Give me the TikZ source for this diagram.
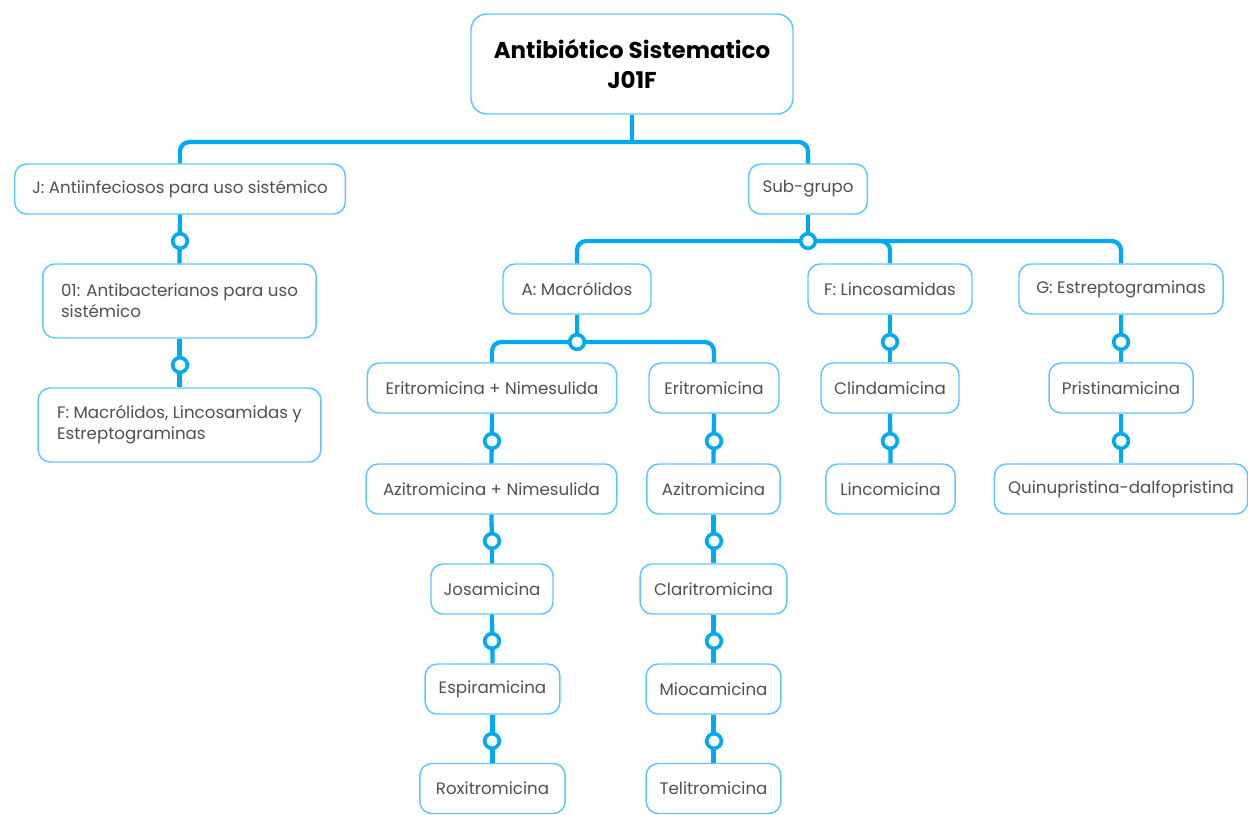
\documentclass[tikz,border=0pt]{standalone}
\usepackage{fontspec}
\setmainfont{Poppins}
\usetikzlibrary{calc}
\definecolor{linec}{HTML}{00A9F4}
\definecolor{boxc}{HTML}{5BC8FA}
\definecolor{txtc}{HTML}{505050}
\tikzset{
  x=0.75pt, y=-0.75pt,
  box/.style={draw=boxc, line width=1.1pt, rounded corners=9pt, fill=white,
    text=txtc, font=\fontsize{12.5}{16}\selectfont, inner sep=0pt,
    minimum height=37.5pt},
  rootbox/.style={draw=boxc, line width=1.1pt, rounded corners=12pt, fill=white,
    text=black, font=\fontsize{17.2}{22}\selectfont\bfseries, align=center, inner sep=0pt},
  conn/.style={draw=linec, line width=3.2pt, rounded corners=7pt},
  junc/.style={circle, draw=linec, line width=2.7pt, fill=white, minimum size=11pt, inner sep=0pt},
}
\begin{document}
\begin{tikzpicture}
\useasboundingbox (0,0) rectangle (1248,814);
% nodes
\node[rootbox, minimum width=241.5pt, minimum height=75pt] (root) at (632,64) {Antibiótico Sistematico\\J01F};
\node[box, minimum width=248pt] (J) at (180,189) {J: Antiinfeciosos para uso sistémico};
\node[box, minimum width=205pt, minimum height=55.5pt, align=left] (A01) at (179.5,301) {01: Antibacterianos para uso\\sistémico};
\node[box, minimum width=212pt, minimum height=55.5pt, align=left] (F) at (179.5,425) {F: Macrólidos, Lincosamidas y\\Estreptograminas};
\node[box, minimum width=89pt] (sub) at (808,189) {Sub-grupo};
\node[box, minimum width=111pt] (A) at (577,289) {A: Macrólidos};
\node[box, minimum width=123pt] (FL) at (890,289) {F: Lincosamidas};
\node[box, minimum width=153pt] (G) at (1121,289) {G: Estreptograminas};
\node[box, minimum width=187pt] (en) at (492,388) {Eritromicina + Nimesulida};
\node[box, minimum width=97.5pt] (e) at (714,388) {Eritromicina};
\node[box, minimum width=188pt] (an) at (491.5,489) {Azitromicina + Nimesulida};
\node[box, minimum width=100pt] (az) at (713.5,489) {Azitromicina};
\node[box, minimum width=91.5pt] (jo) at (492,589) {Josamicina};
\node[box, minimum width=110pt] (cl) at (713.5,589) {Claritromicina};
\node[box, minimum width=101pt] (es) at (492.5,689) {Espiramicina};
\node[box, minimum width=101pt] (mi) at (713.5,689) {Miocamicina};
\node[box, minimum width=109pt] (ro) at (492.5,788.5) {Roxitromicina};
\node[box, minimum width=101pt] (te) at (713.5,788.5) {Telitromicina};
\node[box, minimum width=103.5pt] (cd) at (890,388) {Clindamicina};
\node[box, minimum width=97pt] (li) at (890.5,489) {Lincomicina};
\node[box, minimum width=108pt] (pr) at (1121,388) {Pristinamicina};
\node[box, minimum width=190pt] (qd) at (1121,489) {Quinupristina-dalfopristina};
% bus coordinates
\coordinate (b1) at (632,142);
\coordinate (b2) at (808,241);
\coordinate (b3) at (577,342);
% connectors
\draw[conn] (J.north) |- (b1) -| (sub.north);
\draw[conn] (root.south) -- (b1);
\draw[conn] (J.south) -- (A01.north);
\draw[conn] (A01.south) -- (F.north);
\draw[conn] (sub.south) -- (b2);
\draw[conn] (A.north) |- (b2) -| (G.north);
\draw[conn] (b2) -| (FL.north);
\draw[conn] (A.south) -- (b3);
\draw[conn] (en.north) |- (b3) -| (e.north);
\draw[conn] (en.south) -- (an.north);
\draw[conn] (an.south) -- (jo.north);
\draw[conn] (jo.south) -- (es.north);
\draw[conn] (es.south) -- (ro.north);
\draw[conn] (e.south) -- (az.north);
\draw[conn] (az.south) -- (cl.north);
\draw[conn] (cl.south) -- (mi.north);
\draw[conn] (mi.south) -- (te.north);
\draw[conn] (FL.south) -- (cd.north);
\draw[conn] (cd.south) -- (li.north);
\draw[conn] (G.south) -- (pr.north);
\draw[conn] (pr.south) -- (qd.north);
% junction circles
\node[junc] (j1) at (180,241) {};
\node[junc] (j2) at (180,365) {};
\node[junc] (j3) at (b2) {};
\node[junc] (j4) at (b3) {};
\node[junc] (j5) at (492,441) {};
\node[junc] (j6) at (492,541) {};
\node[junc] (j7) at (492,641) {};
\node[junc] (j8) at (492,741) {};
\node[junc] (j9) at (714,441) {};
\node[junc] (j10) at (714,541) {};
\node[junc] (j11) at (714,641) {};
\node[junc] (j12) at (714,741) {};
\node[junc] (j13) at (890,342) {};
\node[junc] (j14) at (890,441) {};
\node[junc] (j15) at (1121,342) {};
\node[junc] (j16) at (1121,441) {};
\end{tikzpicture}
\end{document}
